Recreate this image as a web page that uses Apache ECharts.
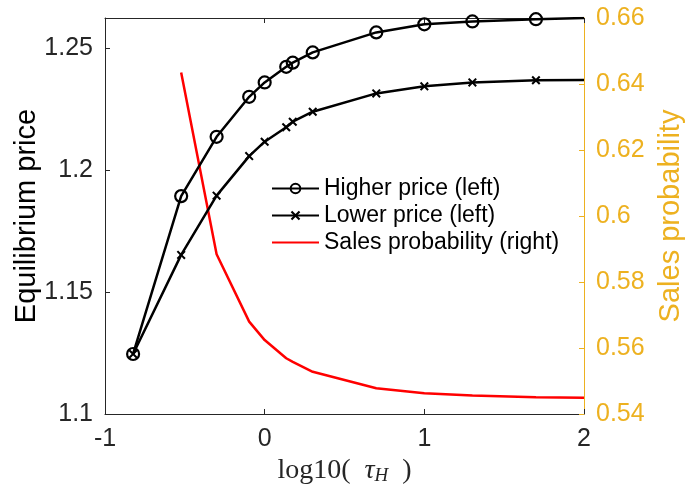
<!DOCTYPE html>
<html>
<head>
<meta charset="utf-8">
<script src="https://cdn.jsdelivr.net/npm/echarts@6/dist/echarts.min.js"></script>
<style>
  html, body { margin: 0; padding: 0; background: #fff; }
  #chart { width: 688px; height: 490px; }
</style>
</head>
<body>
<div id="chart"></div>
<script>
// log10(tau_H) sample points
const tauLog = [-0.824, -0.523, -0.301, -0.097, 0, 0.135, 0.176, 0.301, 0.699, 1, 1.301, 1.699, 2];

// Equilibrium prices (left axis)
const higherPrice = [1.1246, 1.1893, 1.2136, 1.2300, 1.2359, 1.2423, 1.2440, 1.2482, 1.2564, 1.2597, 1.2609, 1.2618, 1.2623];
const lowerPrice  = [1.1246, 1.1652, 1.1895, 1.2057, 1.2116, 1.2175, 1.2198, 1.2239, 1.2314, 1.2343, 1.2359, 1.2368, 1.2369];

// Sales probability (right axis); not computed at the first tau
const salesProb = [null, 0.6435, 0.5884, 0.5680, 0.5624, 0.5569, 0.5558, 0.5528, 0.5478, 0.5463, 0.5456, 0.5451, 0.5449];

// Axis ranges and ticks
const xRange = [-1, 2];
const xStep = 1;
const leftRange = [1.1, 1.2623];
const leftStep = 0.05;
const rightRange = [0.54, 0.66];
const rightStep = 0.02;

const seriesNames = ['Higher price (left)', 'Lower price (left)', 'Sales probability (right)'];

const FONT = 'Liberation Sans';
const AXIS_DARK = '#262626';
const AXIS_GOLD = '#EDB120';

// Markers are plotted at the sampled points only; the final point just closes the curve at the frame edge
function pricePoints(values) {
  return values.map((v, i) => {
    const item = { value: [tauLog[i], v] };
    if (i === values.length - 1) item.symbol = 'none';
    return item;
  });
}
const salesPoints = salesProb
  .map((v, i) => [tauLog[i], v])
  .filter(p => p[1] !== null);

const crossPath = 'path://M0,1.6L1.6,0L5,3.4L8.4,0L10,1.6L6.6,5L10,8.4L8.4,10L5,6.6L1.6,10L0,8.4L3.4,5Z';

const chart = echarts.init(document.getElementById('chart'), null, { renderer: 'canvas' });

const option = {
  animation: false,
  backgroundColor: '#ffffff',
  grid: { left: 105, right: 104, top: 18, bottom: 76, containLabel: false, outerBoundsMode: 'none' },
  legend: {
    orient: 'vertical',
    left: 271,
    top: 177,
    padding: 0,
    itemGap: 4,
    itemWidth: 47,
    itemHeight: 12,
    data: [
      { name: seriesNames[0] },
      { name: seriesNames[1] },
      { name: seriesNames[2], itemStyle: { color: 'rgba(0,0,0,0)', borderWidth: 0 } }
    ],
    textStyle: { fontFamily: FONT, fontSize: 23, color: '#000', lineHeight: 23 }
  },
  xAxis: [
    {
      type: 'value',
      min: xRange[0], max: xRange[1], interval: xStep,
      position: 'bottom',
      splitLine: { show: false },
      axisLine: { show: true, onZero: false, lineStyle: { color: AXIS_DARK, width: 1 } },
      axisTick: { show: true, inside: true, length: 5, lineStyle: { color: AXIS_DARK } },
      axisLabel: { fontFamily: FONT, fontSize: 25, color: AXIS_DARK, margin: 13 },
      name: '{r|log10(  }{i|τ}{s|H}{r|  )}',
      nameLocation: 'middle',
      nameGap: 31,
      nameTextStyle: {
        rich: {
          r: { fontFamily: 'Liberation Serif', fontSize: 28, color: AXIS_DARK },
          i: { fontFamily: 'Liberation Serif', fontStyle: 'italic', fontSize: 28, color: AXIS_DARK },
          s: { fontFamily: 'Liberation Serif', fontStyle: 'italic', fontSize: 19, color: AXIS_DARK, padding: [11, 0, 0, 0] }
        }
      }
    },
    {
      type: 'value',
      min: xRange[0], max: xRange[1], interval: xStep,
      position: 'top',
      splitLine: { show: false },
      axisLine: { show: true, onZero: false, lineStyle: { color: AXIS_DARK, width: 1 } },
      axisTick: { show: true, inside: true, length: 5, lineStyle: { color: AXIS_DARK } },
      axisLabel: { show: false }
    }
  ],
  yAxis: [
    {
      type: 'value',
      min: leftRange[0], max: leftRange[1], interval: leftStep,
      position: 'left',
      splitLine: { show: false },
      axisLine: { show: true, onZero: false, lineStyle: { color: AXIS_DARK, width: 1 } },
      axisTick: { show: true, inside: true, length: 5, lineStyle: { color: AXIS_DARK } },
      axisLabel: {
        fontFamily: FONT, fontSize: 25, color: AXIS_DARK, margin: 12,
        formatter: function (v) {
          const k = Math.round((v - leftRange[0]) / leftStep);
          if (Math.abs(leftRange[0] + k * leftStep - v) > 1e-6) return '';
          return String(+v.toFixed(2));
        }
      },
      name: 'Equilibrium price',
      nameLocation: 'middle',
      nameGap: 64,
      nameMoveOverlap: false,
      nameTextStyle: { fontFamily: FONT, fontSize: 29, color: '#000' }
    },
    {
      type: 'value',
      min: rightRange[0], max: rightRange[1], interval: rightStep,
      position: 'right',
      splitLine: { show: false },
      axisLine: { show: true, onZero: false, lineStyle: { color: AXIS_GOLD, width: 1 } },
      axisTick: { show: true, inside: true, length: 5, lineStyle: { color: AXIS_GOLD } },
      axisLabel: {
        fontFamily: FONT, fontSize: 25, color: AXIS_GOLD, margin: 12,
        formatter: function (v) { return String(+v.toFixed(2)); }
      },
      name: 'Sales probability',
      nameLocation: 'middle',
      nameGap: 72,
      nameTextStyle: { fontFamily: FONT, fontSize: 29, color: AXIS_GOLD }
    }
  ],
  series: [
    {
      name: seriesNames[0],
      type: 'line',
      xAxisIndex: 0, yAxisIndex: 0,
      data: pricePoints(higherPrice),
      symbol: 'circle',
      symbolSize: 12,
      showAllSymbol: true,
      lineStyle: { color: '#000', width: 2.5 },
      itemStyle: { color: 'rgba(0,0,0,0)', borderColor: '#000', borderWidth: 2.2 },
      z: 3
    },
    {
      name: seriesNames[1],
      type: 'line',
      xAxisIndex: 0, yAxisIndex: 0,
      data: pricePoints(lowerPrice),
      symbol: crossPath,
      symbolSize: 9,
      showAllSymbol: true,
      lineStyle: { color: '#000', width: 2.5 },
      itemStyle: { color: '#000' },
      z: 3
    },
    {
      name: seriesNames[2],
      type: 'line',
      xAxisIndex: 0, yAxisIndex: 1,
      data: salesPoints,
      symbol: 'none',
      lineStyle: { color: '#ff0000', width: 2.5 },
      itemStyle: { color: '#ff0000' },
      z: 2
    }
  ]
};

chart.setOption(option);
</script>
</body>
</html>
